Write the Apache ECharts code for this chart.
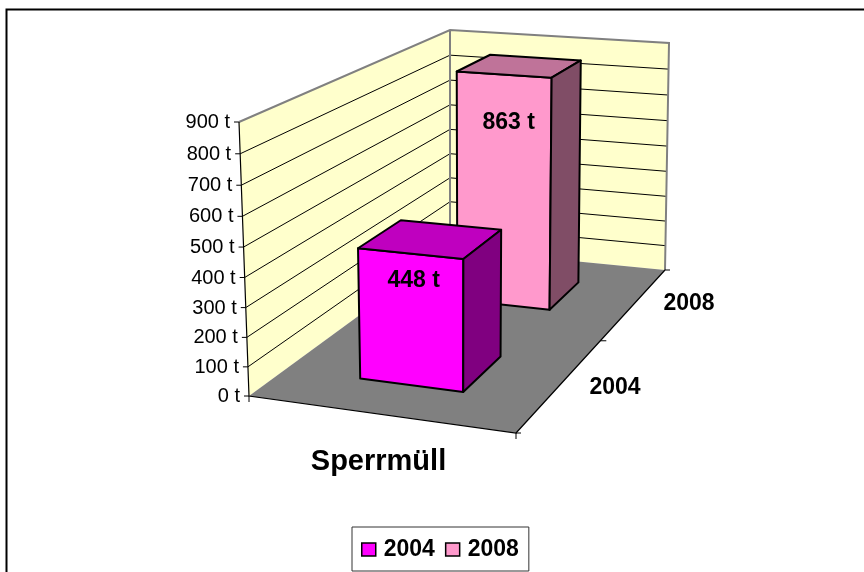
<!DOCTYPE html>
<html>
<head>
<meta charset="utf-8">
<style>html,body{margin:0;padding:0;background:#fff}#main{width:864px;height:572px}</style>
<script src="https://cdn.jsdelivr.net/npm/echarts@6/dist/echarts.min.js"></script>
</head>
<body>
<div id="main"></div>
<script>
var categories = ['Sperrmüll'];
var years = ['2004', '2008'];
var values = [448, 863];
var valueTicks = [0, 100, 200, 300, 400, 500, 600, 700, 800, 900];

var seriesColors = ['#FF00FF', '#FF99CC'];
var topColors = ['#BF00BF', '#BF7399'];
var sideColors = ['#800080', '#804D66'];
var FONT = '"Liberation Sans", Arial, sans-serif';

// 8 corners of the 3d box on screen, with a perspective weight each
// index: u (0 left,1 right), v (0 front,1 back), z (0 floor,1 top)
var box = {
    '000': [249, 396, 1],      '100': [516, 433, 0.9385],
    '110': [665, 270, 1.223],  '010': [450, 249, 1.2846],
    '001': [239, 122, 0.9526], '101': [520, 143, 0.891],
    '111': [669, 43, 1.1756],  '011': [450, 30, 1.2372]
};

// u, v in 0..1, z in 0..1
function project(u, v, z) {
    var sx = 0, sy = 0, sw = 0;
    ['0', '1'].forEach(function (a) {
        ['0', '1'].forEach(function (b) {
            ['0', '1'].forEach(function (c) {
                var p = box[a + b + c];
                var f = (a === '1' ? u : 1 - u) * (b === '1' ? v : 1 - v) * (c === '1' ? z : 1 - z) * p[2];
                sx += f * p[0];
                sy += f * p[1];
                sw += f;
            });
        });
    });
    return [sx / sw, sy / sw];
}

// value to 0..1 height
function heightOf(api, value) {
    var bottom = api.coord([0, 0])[1];
    var top = api.coord([0, 900])[1];
    return (bottom - api.coord([0, value])[1]) / (bottom - top);
}

function poly(points, fill, stroke, width) {
    return {
        type: 'polygon',
        shape: { points: points },
        style: { fill: fill, stroke: stroke || null, lineWidth: width || 0, lineJoin: 'round' }
    };
}
function line(points, stroke, width) {
    return {
        type: 'polyline',
        shape: { points: points },
        style: { fill: null, stroke: stroke, lineWidth: width }
    };
}
function text(str, x, y, font, align) {
    return {
        type: 'text',
        style: { text: str, x: x, y: y, font: font, fill: '#000', align: align || 'center', verticalAlign: 'middle' }
    };
}

function renderFrame(params, api) {
    var kids = [];
    // outer chart border, only top and left show
    kids.push(line([[6.5, 572], [6.5, 9.5], [864, 9.5]], '#000', 2));
    // walls and floor
    kids.push(poly([project(0, 0, 0), project(0, 0, 1), project(0, 1, 1), project(0, 1, 0)], '#FFFFCC'));
    kids.push(poly([project(0, 1, 0), project(0, 1, 1), project(1, 1, 1), project(1, 1, 0)], '#FFFFCC'));
    kids.push(poly([project(0, 0, 0), project(1, 0, 0), project(1, 1, 0), project(0, 1, 0)], '#808080'));
    // gridlines and value ticks
    valueTicks.forEach(function (t) {
        var z = heightOf(api, t);
        var p = project(0, 0, z);
        if (t > 0 && t < 900) {
            kids.push(line([p, project(0, 1, z), project(1, 1, z)], '#000', 1));
        }
        kids.push(line([[p[0] - 5, p[1]], p], '#000', 1));
        kids.push(text(t + ' t', p[0] - 9, p[1] + 0.5, '20px ' + FONT, 'right'));
    });
    // wall outline
    kids.push(line([project(0, 0, 1), project(0, 1, 1), project(1, 1, 1), project(1, 1, 0)], '#808080', 2));
    kids.push(line([project(0, 1, 1), project(0, 1, 0)], '#808080', 2));
    // axes
    kids.push(line([project(0, 0, 1), project(0, 0, 0), project(1, 0, 0), project(1, 1, 0)], '#000', 1.2));
    var a = project(0, 0, 0), c = project(1, 0, 0), m = project(1, 0.5, 0), d = project(1, 1, 0);
    kids.push(line([a, [a[0], a[1] + 6]], '#000', 1));
    kids.push(line([[c[0], c[1] + 6], c, [c[0] + 5, c[1]]], '#000', 1));
    kids.push(line([m, [m[0] + 6, m[1]]], '#000', 1));
    kids.push(line([d, [d[0] + 5, d[1]]], '#000', 1));
    // category labels
    kids.push(text(categories[0], 378.5, 462, 'bold 29px ' + FONT));
    kids.push(text(years[0], 615, 388, 'bold 23px ' + FONT));
    kids.push(text(years[1], 689, 304, 'bold 23px ' + FONT));
    return { type: 'group', children: kids };
}

var labelOffset = [[3, 27], [4.5, 48]];

function renderBar(params, api) {
    var i = params.seriesIndex - 1;
    var z = heightOf(api, api.value(1));
    var u0 = 0.3, u1 = 0.7;
    var v0 = (i + 0.3) / 2, v1 = (i + 0.7) / 2;
    var lw = 2;
    var fbl = project(u0, v0, 0), fbr = project(u1, v0, 0), bbr = project(u1, v1, 0);
    var ftl = project(u0, v0, z), ftr = project(u1, v0, z), btr = project(u1, v1, z), btl = project(u0, v1, z);
    var mx = (ftl[0] + ftr[0]) / 2, my = (ftl[1] + ftr[1]) / 2;
    return {
        type: 'group',
        children: [
            poly([fbl, fbr, ftr, ftl], seriesColors[i], '#000', lw),
            poly([ftl, ftr, btr, btl], topColors[i], '#000', lw),
            poly([fbr, bbr, btr, ftr], sideColors[i], '#000', lw),
            text(api.value(1) + ' t', mx + labelOffset[i][0], my + labelOffset[i][1], 'bold 23px ' + FONT)
        ]
    };
}

var myChart = echarts.init(document.getElementById('main'));

var option = {
    animation: false,
    backgroundColor: '#fff',
    grid: { left: 239, top: 122, width: 430, height: 274 },
    xAxis: { type: 'category', data: categories, show: false },
    yAxis: { type: 'value', min: 0, max: 900, interval: 100, show: false },
    legend: {
        left: 352,
        top: 527,
        orient: 'horizontal',
        data: years,
        icon: 'rect',
        itemWidth: 14,
        itemHeight: 13,
        itemGap: 10,
        padding: [11, 10, 10, 9],
        borderColor: '#333',
        borderWidth: 1,
        backgroundColor: '#fff',
        selectedMode: false,
        itemStyle: { borderColor: '#000', borderWidth: 1.5 },
        textStyle: { color: '#000', fontFamily: FONT, fontWeight: 'bold', fontSize: 23, padding: [0, 0, 0, 3] }
    },
    series: [
        {
            type: 'custom',
            name: 'frame',
            silent: true,
            clip: false,
            z: 1,
            data: [[0, 0]],
            renderItem: renderFrame
        },
        {
            type: 'custom',
            name: years[0],
            silent: true,
            clip: false,
            z: 3,
            itemStyle: { color: seriesColors[0] },
            data: [[0, values[0]]],
            renderItem: renderBar
        },
        {
            type: 'custom',
            name: years[1],
            silent: true,
            clip: false,
            z: 2,
            itemStyle: { color: seriesColors[1] },
            data: [[0, values[1]]],
            renderItem: renderBar
        }
    ]
};

myChart.setOption(option);
</script>
</body>
</html>
